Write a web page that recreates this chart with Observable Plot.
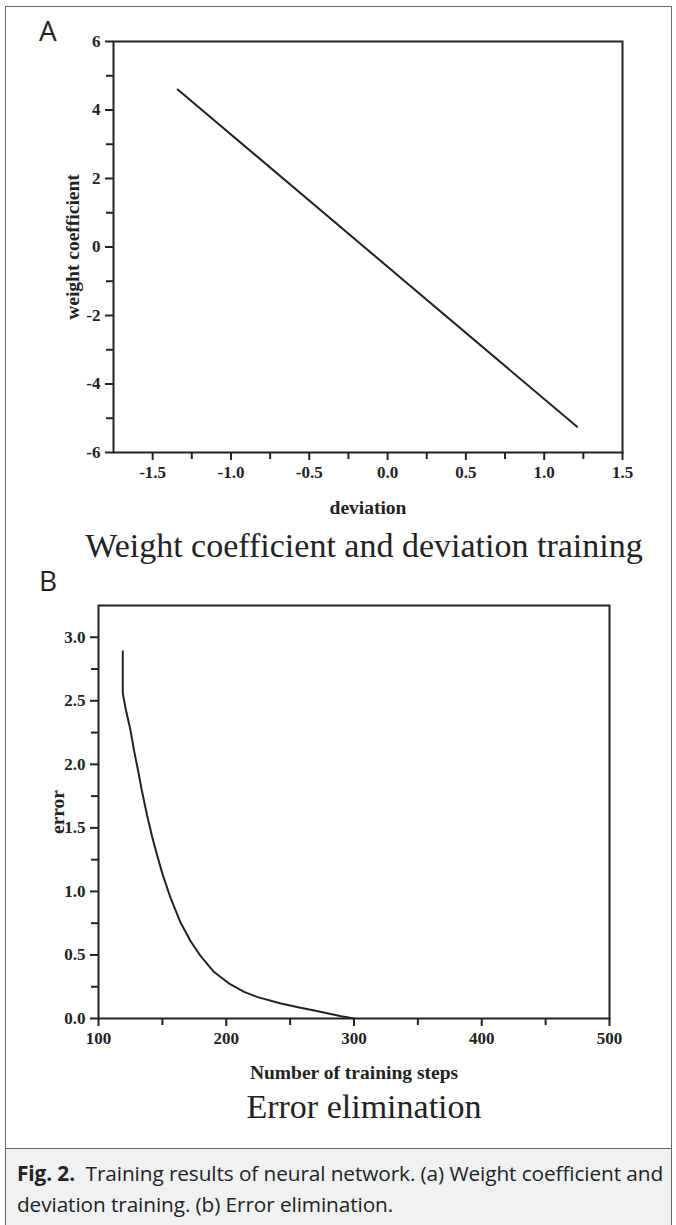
<!DOCTYPE html>
<html>
<head>
<meta charset="utf-8">
<script src="https://cdn.jsdelivr.net/npm/d3@7"></script>
<script src="https://cdn.jsdelivr.net/npm/@observablehq/plot@0.6"></script>
<style>
  html, body { margin: 0; padding: 0; background: #fff; }
  #page { position: relative; width: 676px; height: 1225px; overflow: hidden; }
  #frame { position: absolute; left: 5px; top: 6px; width: 667px; height: 1240px; border: 1px solid #666; box-sizing: border-box; }
  #caption { position: absolute; left: 5px; top: 1148px; width: 667px; height: 100px; background: #f0f1f3; border: 1px solid #666; box-sizing: border-box; }
  #caption p { margin: 0; position: absolute; left: 11px; top: 9px; font-family: "Open Sans", sans-serif; font-size: 20.8px; line-height: 31px; color: #222; letter-spacing: -0.1px; white-space: nowrap; }
  .letter { position: absolute; font-family: "Open Sans", sans-serif; font-size: 28px; color: #222; line-height: 30px; }
  .title { position: absolute; left: 0; width: 728px; text-align: center; font-family: "Liberation Serif", "Times New Roman", serif; font-size: 34px; color: #222; line-height: 40px; }
  .panel { position: absolute; left: 0; }
</style>
</head>
<body>
<div id="page">
  <div id="frame"></div>
  <div class="letter" style="left:39px; top:15px;">A</div>
  <div class="panel" id="panelA" style="top:0px;"></div>
  <div class="title" style="top:526px;">Weight coefficient and deviation training</div>
  <div class="letter" style="left:39px; top:565px;">B</div>
  <div class="panel" id="panelB" style="top:560px;"></div>
  <div class="title" style="top:1087px;">Error elimination</div>
  <div id="caption"><p><b>Fig. 2.</b>&nbsp; Training results of neural network. (a) Weight coefficient and<br>deviation training. (b) Error elimination.</p></div>
</div>
<script>
// ---- Panel A data: weight coefficient vs deviation ----
const deviation = [-1.34, 1.21];
const weightCoef = [4.6, -5.25];
const aXMajor = [-1.5, -1.0, -0.5, 0.0, 0.5, 1.0, 1.5];
const aXMinor = [-1.25, -0.75, -0.25, 0.25, 0.75, 1.25];
const aYMajor = [-6, -4, -2, 0, 2, 4, 6];
const aYMinor = [-5, -3, -1, 1, 3, 5];

// ---- Panel B data: error vs number of training steps ----
const steps  = [119, 119, 121, 125, 128, 131, 134, 138, 142, 146, 150, 156, 164, 172, 180, 190, 203, 214, 224, 242, 258, 268, 280, 290, 300];
const errors = [2.89, 2.56, 2.45, 2.27, 2.10, 1.95, 1.79, 1.60, 1.43, 1.28, 1.14, 0.96, 0.76, 0.61, 0.49, 0.37, 0.27, 0.21, 0.17, 0.12, 0.085, 0.065, 0.04, 0.018, 0];
const bXMajor = [100, 200, 300, 400, 500];
const bXMinor = [150, 250, 350, 450];
const bYMajor = [0, 0.5, 1.0, 1.5, 2.0, 2.5, 3.0];
const bYMinor = [0.25, 0.75, 1.25, 1.75, 2.25, 2.75];

const ink = "#222";
const serif = "'Liberation Serif', 'Times New Roman', serif";
const baseStyle = {fontFamily: serif, fontWeight: "bold", fontSize: "17px", color: ink, background: "transparent", overflow: "visible"};

const dataA = deviation.map((d, i) => ({x: d, y: weightCoef[i]}));
const dataB = steps.map((s, i) => ({x: s, y: errors[i]}));

const fmt1 = d => d.toFixed(1);
const fmt0 = d => String(d);
const blank = () => "";
const tickOpts = {tickSize: 7, strokeWidth: 2, stroke: ink, label: null};
const labelOpts = {tickSize: 8, tickPadding: 5, strokeWidth: 2, stroke: ink, fill: ink, label: null, fontSize: 17, fontWeight: "bold", fontFamily: serif};
const titleOpts = {fontSize: 19.5, fontWeight: "bold", fontFamily: serif, fill: ink, textAnchor: "middle", lineAnchor: "middle"};

const plotA = Plot.plot({
  width: 676, height: 525,
  marginLeft: 113, marginRight: 54, marginTop: 41, marginBottom: 73,
  style: baseStyle,
  x: {domain: [-1.75, 1.5]},
  y: {domain: [-6, 6]},
  marks: [
    Plot.axisX({ticks: aXMinor, tickFormat: blank, ...tickOpts}),
    Plot.axisX({ticks: aXMajor, tickFormat: fmt1, ...labelOpts}),
    Plot.axisY({ticks: aYMinor, tickFormat: blank, ...tickOpts}),
    Plot.axisY({ticks: aYMajor, tickFormat: fmt0, ...labelOpts}),
    Plot.frame({stroke: ink, strokeWidth: 2}),
    Plot.line(dataA, {x: "x", y: "y", stroke: ink, strokeWidth: 2}),
    Plot.text(["deviation"], {frameAnchor: "bottom", dy: 55, ...titleOpts}),
    Plot.text(["weight coefficient"], {frameAnchor: "left", dx: -41, rotate: -90, ...titleOpts})
  ]
});
document.getElementById("panelA").appendChild(plotA);

const plotB = Plot.plot({
  width: 676, height: 530,
  marginLeft: 98, marginRight: 67, marginTop: 45, marginBottom: 72,
  style: baseStyle,
  x: {domain: [100, 500]},
  y: {domain: [0, 3.25]},
  marks: [
    Plot.axisX({ticks: bXMinor, tickFormat: blank, ...tickOpts}),
    Plot.axisX({ticks: bXMajor, tickFormat: fmt0, ...labelOpts}),
    Plot.axisY({ticks: bYMinor, tickFormat: blank, ...tickOpts}),
    Plot.axisY({ticks: bYMajor, tickFormat: fmt1, ...labelOpts}),
    Plot.frame({stroke: ink, strokeWidth: 2}),
    Plot.line(dataB, {x: "x", y: "y", stroke: ink, strokeWidth: 2}),
    Plot.text(["Number of training steps"], {frameAnchor: "bottom", dy: 54, ...titleOpts}),
    Plot.text(["error"], {frameAnchor: "left", dx: -41, rotate: -90, ...titleOpts})
  ]
});
document.getElementById("panelB").appendChild(plotB);
</script>
</body>
</html>
